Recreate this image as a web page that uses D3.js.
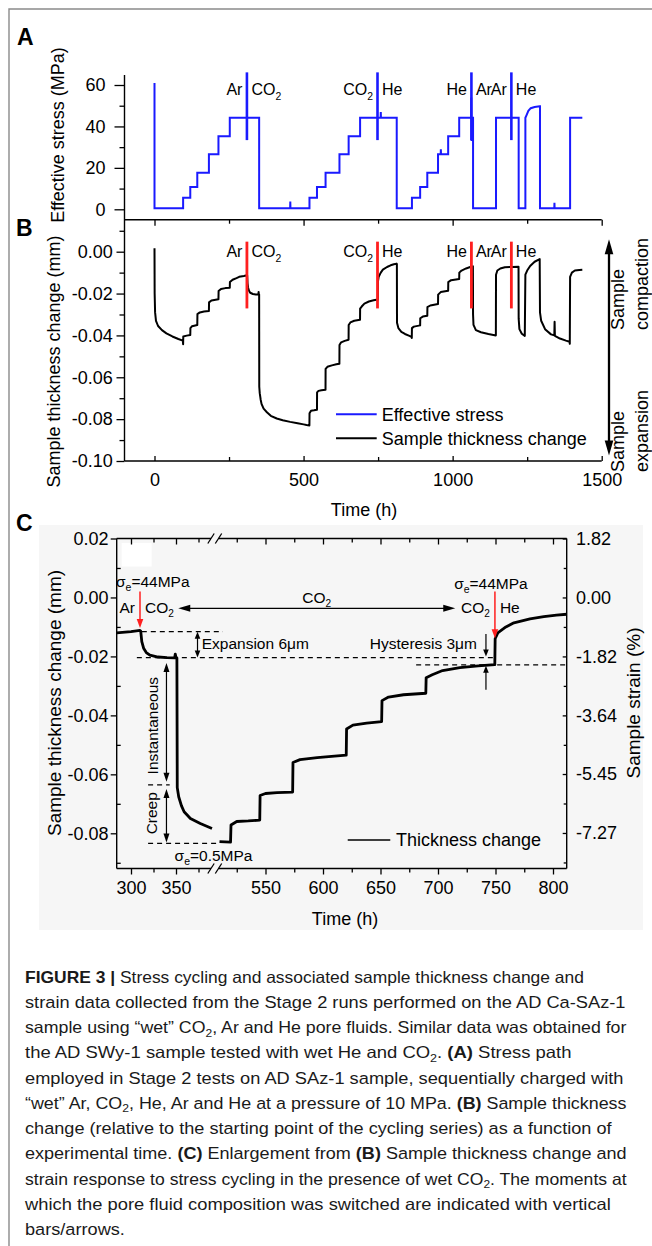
<!DOCTYPE html>
<html><head><meta charset="utf-8">
<script src="https://cdn.jsdelivr.net/npm/d3@7"></script>
<style>
html,body{margin:0;padding:0;background:#fff;}
svg{display:block;font-family:"Liberation Sans",Arial,Helvetica,sans-serif;}
</style></head><body>
<svg id="fig" width="652" height="1246"></svg>
<script>
// ---------------- DATA ----------------
const switchTimes = [310, 748, 1063, 1197];
const gasBefore = ["Ar", "CO2", "He", "Ar"];
const gasAfter  = ["CO2", "He", "Ar", "He"];

const stressTime = [0,0,96,96,120,120,143.5,143.5,182.5,182.5,214.5,214.5,252.5,252.5,351,351,455,455.5,456,
  519.8,519.8,545,545,573.8,573.8,620.4,620.4,651.2,651.2,689.6,689.6,758.5,759,759.5,812.5,812.5,
  863.5,863.5,891,891,915,915,951,951,960,960.5,961,985,985,1022,1022,1062,1062.5,1063.5,1064.5,1068.5,1068.5,
  1145.5,1145.5,1221.5,1221.5,1244,1244,1248,1254,1262,1275,1292,1293,1293,1341,1341.5,1342,1394,1394,1435];
const stressMPa = [61,0.5,0.5,5.6,5.6,10.8,10.8,17.7,17.7,26.6,26.6,35.3,35.3,44.2,44.2,0.5,0.5,3.8,0.5,
  0.5,5.6,5.6,10.8,10.8,17.7,17.7,26.6,26.6,35.3,35.3,44.2,44.2,47,44.2,44.2,0.5,
  0.5,5.6,5.6,10.8,10.8,17.7,17.7,26.6,26.6,29,26.6,26.6,35.3,35.3,44.2,44.2,54,33,44.2,44.2,0.5,
  0.5,44.2,44.2,0.5,0.5,44.2,45.5,47.5,48.8,49.4,49.7,49.7,0.5,0.5,3.2,0.5,0.5,44.2,44.2];

const thickTime = [0,0.5,2,5,12,25,40,60,80,95,96,96.5,108,120,120.5,126,143.5,144,152,166,182.5,183,191,214.5,
  215,223,238,252.5,253,262,275,284,300,310,310.8,312,314,317,321,330,340,348.5,349.2,350,351,351.4,353,356,359,
  366,377,390,410,430,455,480,500,510,519.6,520,525,535,545,545.3,550,560,573.6,573.9,580,595,610,620.2,620.5,
  626,638,651,651.3,657,670,689.4,689.7,695,704,719,735,749.4,749.7,752,759,766,780,792,803,812,813,813.4,818,
  828,840,855,862,863,863.5,870,891,891.4,900,915,915.4,925,951,951.4,960,985,985.4,995,1022,1022.4,1030,1045,
  1059,1068,1068.5,1070,1078,1095,1120,1145,1145.5,1150,1160,1175,1200,1221,1221.5,1224,1232,1242,1244,1250,
  1260,1275,1292,1293,1297,1310,1330,1341,1342,1343,1360,1380,1392,1393,1394,1400,1410,1425,1435];
const thickMM = [0.0016,-0.0200,-0.0290,-0.0330,-0.0355,-0.0375,-0.0390,-0.0405,-0.0417,-0.0425,-0.0442,-0.0405,
  -0.0401,-0.0398,-0.0365,-0.0356,-0.0350,-0.0298,-0.0290,-0.0286,-0.0283,-0.0242,-0.0233,-0.0227,
  -0.0188,-0.0178,-0.0174,-0.0172,-0.0145,-0.0134,-0.0126,-0.0120,-0.0116,-0.0112,-0.0114,-0.0150,-0.0172,
  -0.0187,-0.0196,-0.0202,-0.0204,-0.0205,-0.0192,-0.0204,-0.0205,-0.0645,-0.0676,-0.0706,-0.0727,
  -0.0750,-0.0767,-0.0784,-0.0797,-0.0805,-0.0813,-0.0820,-0.0825,-0.0828,-0.0830,-0.0772,-0.0760,-0.0758,
  -0.0755,-0.0672,-0.0665,-0.0662,-0.0660,-0.0560,-0.0550,-0.0543,-0.0538,-0.0535,-0.0446,
  -0.0433,-0.0426,-0.0421,-0.0350,-0.0338,-0.0330,-0.0325,-0.0272,-0.0262,-0.0248,-0.0238,-0.0232,-0.0228,
  -0.0140,-0.0120,-0.0100,-0.0086,-0.0073,-0.0065,-0.0060,-0.0057,-0.0059,-0.0340,-0.0365,
  -0.0383,-0.0393,-0.0402,-0.0407,-0.0412,-0.0365,-0.0358,-0.0352,-0.0318,-0.0310,-0.0306,-0.0265,-0.0257,
  -0.0250,-0.0205,-0.0193,-0.0187,-0.0145,-0.0136,-0.0130,-0.0100,-0.0090,-0.0080,
  -0.0073,-0.0070,-0.0300,-0.0350,-0.0375,-0.0385,-0.0393,-0.0400,-0.0110,-0.0090,-0.0080,-0.0074,-0.0073,
  -0.0072,-0.0320,-0.0370,-0.0392,-0.0402,-0.0110,-0.0090,
  -0.0068,-0.0048,-0.0035,-0.0290,-0.0330,-0.0370,-0.0395,-0.0400,-0.0335,-0.0402,-0.0415,-0.0425,-0.0430,
  -0.0440,-0.0120,-0.0100,-0.0090,-0.0087,-0.0086];

const xTicksB = [0, 500, 1000, 1500];
const xMinorB = [250, 750, 1250];
const yTicksA = [0, 20, 40, 60];
const yMinorA = [10, 30, 50];
const yTicksB = [0, -0.02, -0.04, -0.06, -0.08, -0.10];
const yMinorB = [0.01, -0.01, -0.03, -0.05, -0.07, -0.09];
const xTicksC1 = [300, 350];
const xMinorC1 = [325, 375];
const xTicksC2 = [550, 600, 650, 700, 750, 800];
const xMinorC2 = [525, 575, 625, 675, 725, 775];
const yTicksC = [0.02, 0, -0.02, -0.04, -0.06, -0.08];
const yMinorC = [0.01, -0.01, -0.03, -0.05, -0.07, -0.09];
const strainTicks = [1.82, 0, -1.82, -3.64, -5.45, -7.27];
const strainMinor = [0.91, -0.91, -2.73, -4.55, -6.36, -8.18];
const strainPerMM = 91;

const captionLines = [
  [["FIGURE 3 | ","b"],["Stress cycling and associated sample thickness change and"]],
  [["strain data collected from the Stage 2 runs performed on the AD Ca-SAz-1"]],
  [["sample using \u201cwet\u201d CO"],["2","s"],[", Ar and He pore fluids. Similar data was obtained for"]],
  [["the AD SWy-1 sample tested with wet He and CO"],["2","s"],[". "],["(A)","b"],[" Stress path"]],
  [["employed in Stage 2 tests on AD SAz-1 sample, sequentially charged with"]],
  [["\u201cwet\u201d Ar, CO"],["2","s"],[", He, Ar and He at a pressure of 10 MPa. "],["(B)","b"],[" Sample thickness"]],
  [["change (relative to the starting point of the cycling series) as a function of"]],
  [["experimental time. "],["(C)","b"],[" Enlargement from "],["(B)","b"],[" Sample thickness change and"]],
  [["strain response to stress cycling in the presence of wet CO"],["2","s"],[". The moments at"]],
  [["which the pore fluid composition was switched are indicated with vertical"]],
  [["bars/arrows."]]
];

// ---------------- LAYOUT ----------------
const captionEnds = [584, 626, 627, 572, 624, 627, 612, 627, 627, 611, 125];
const BLUE = "#1a1aff", RED = "#ff1f1f", BLACK = "#000";
const svg = d3.select("#fig");

const thick = thickTime.map((t, i) => ({t, v: thickMM[i]}));
const stress = stressTime.map((t, i) => ({t, v: stressMPa[i]}));

// frame of the figure
svg.append("path").attr("d", "M9,1246V9H652").attr("fill", "none").attr("stroke", "#8a8a8a").attr("stroke-width", 1.4);

function letter(t, x, y) {
  svg.append("text").attr("x", x).attr("y", y).attr("font-size", 23).attr("font-weight", "bold").text(t);
}
letter("A", 17, 44.5); letter("B", 16, 235.5); letter("C", 16, 530.5);

function fmt2(d) { return Math.abs(d) < 1e-9 ? "0.00" : d.toFixed(2); }
function styleAxis(g, size) {
  g.attr("font-family", null).attr("font-size", null);
  g.select(".domain").remove();
  g.selectAll(".tick line").attr("stroke", BLACK).attr("stroke-width", 1.3);
  g.selectAll(".tick text").attr("fill", BLACK).attr("font-size", size);
  return g;
}
function gasText(sel, name, size) {
  if (name === "CO2") {
    sel.append("tspan").text("CO");
    sel.append("tspan").attr("font-size", size * 0.65).attr("dy", size * 0.28).text("2");
  } else sel.text(name);
}
function head(g, x, y, dir, len, hw, color) {
  let p;
  if (dir === "down") p = [[x, y], [x - hw, y - len], [x + hw, y - len]];
  if (dir === "up") p = [[x, y], [x - hw, y + len], [x + hw, y + len]];
  if (dir === "left") p = [[x, y], [x + len, y - hw], [x + len, y + hw]];
  if (dir === "right") p = [[x, y], [x - len, y - hw], [x - len, y + hw]];
  g.append("path").attr("d", "M" + p.map(q => q.join(",")).join("L") + "Z").attr("fill", color || BLACK);
}
function line(g, x1, y1, x2, y2, color, w, dash) {
  const l = g.append("line").attr("x1", x1).attr("y1", y1).attr("x2", x2).attr("y2", y2)
    .attr("stroke", color || BLACK).attr("stroke-width", w || 1.3);
  if (dash) l.attr("stroke-dasharray", dash);
  return l;
}
function rotText(g, x, y, txt, size, anchor) {
  return g.append("text").attr("transform", `translate(${x},${y}) rotate(-90)`)
    .attr("text-anchor", anchor || "middle").attr("dy", "0.35em").attr("font-size", size).text(txt);
}

// ---------------- PANELS A & B ----------------
const bL = 124.5, bR = 601.7, bT = 219.7, bB = 461, aTop = 75;
const xB = d3.scaleLinear().domain([0, 1500]).range([154.5, 601.7]);
const yA = d3.scaleLinear().domain([0, 60]).range([209.3, 85]);
const yB = d3.scaleLinear().domain([-0.1, 0]).range([461, 251.7]);

const gAB = svg.append("g");
// frame lines
line(gAB, bL, aTop, bL, bB, BLACK, 1.4);
line(gAB, bL, bT, bR, bT, BLACK, 1.4);
line(gAB, bL, bB, bR, bB, BLACK, 1.4);

// A axis
styleAxis(gAB.append("g").attr("transform", `translate(${bL},0)`)
  .call(d3.axisLeft(yA).tickValues(yTicksA).tickSize(10).tickPadding(9).tickFormat(d3.format("d"))), 18);
styleAxis(gAB.append("g").attr("transform", `translate(${bL},0)`)
  .call(d3.axisLeft(yA).tickValues(yMinorA).tickSize(5).tickFormat("")), 18);
rotText(gAB, 58, 135, "Effective stress (MPa)", 18);

// B axes
styleAxis(gAB.append("g").attr("transform", `translate(${bL},0)`)
  .call(d3.axisLeft(yB).tickValues(yTicksB).tickSize(8).tickPadding(3.8).tickFormat(fmt2)), 18);
styleAxis(gAB.append("g").attr("transform", `translate(${bL},0)`)
  .call(d3.axisLeft(yB).tickValues(yMinorB).tickSize(5).tickFormat("")), 18);
styleAxis(gAB.append("g").attr("transform", `translate(0,${bB})`)
  .call(d3.axisBottom(xB).tickValues(xTicksB).tickSizeInner(-5).tickSizeOuter(0).tickPadding(12.5).tickFormat(d3.format("d"))), 18);
styleAxis(gAB.append("g").attr("transform", `translate(0,${bB})`)
  .call(d3.axisBottom(xB).tickValues(xMinorB).tickSizeInner(-4).tickSizeOuter(0).tickFormat("")), 18);
styleAxis(gAB.append("g").attr("transform", `translate(0,${bT})`)
  .call(d3.axisTop(xB).tickValues(xTicksB).tickSizeInner(-6).tickSizeOuter(0).tickFormat("")), 18);
styleAxis(gAB.append("g").attr("transform", `translate(0,${bT})`)
  .call(d3.axisTop(xB).tickValues(xMinorB).tickSizeInner(-4).tickSizeOuter(0).tickFormat("")), 18);
rotText(gAB, 54, 361.5, "Sample thickness change (mm)", 18);
gAB.append("text").attr("x", 364).attr("y", 516).attr("text-anchor", "middle").attr("font-size", 18).text("Time (h)");

// data lines
const lineA = d3.line().x(d => xB(d.t)).y(d => yA(d.v));
const lineB = d3.line().x(d => xB(d.t)).y(d => yB(d.v));
gAB.append("path").datum(stress).attr("d", lineA).attr("fill", "none").attr("stroke", BLUE).attr("stroke-width", 2);
gAB.append("path").datum(thick).attr("d", lineB).attr("fill", "none").attr("stroke", BLACK).attr("stroke-width", 2).attr("stroke-linejoin", "round");

// switch bars and gas labels
switchTimes.forEach((t, i) => {
  const x = xB(t);
  line(gAB, x, yA(66.1), x, yA(33.4), BLUE, 2.6);
  line(gAB, x, yB(0.0048), x, yB(-0.0271), RED, 2.8);
  [[yA(57.7), 90], [yB(0.0), 251.7]].forEach(([yc]) => {
    const tl = gAB.append("text").attr("x", x - 4.5).attr("y", yc).attr("dy", "0.35em").attr("text-anchor", "end").attr("font-size", 16);
    gasText(tl, gasBefore[i], 16);
    const tr = gAB.append("text").attr("x", x + 4.5).attr("y", yc).attr("dy", "0.35em").attr("text-anchor", "start").attr("font-size", 16);
    gasText(tr, gasAfter[i], 16);
  });
});

// legend B
line(gAB, 336, 414.3, 376.7, 414.3, BLUE, 2);
line(gAB, 336, 438.3, 376.7, 438.3, BLACK, 2);
gAB.append("text").attr("x", 381.7).attr("y", 414.3).attr("dy", "0.35em").attr("font-size", 18).text("Effective stress");
gAB.append("text").attr("x", 381.7).attr("y", 438.3).attr("dy", "0.35em").attr("font-size", 18).text("Sample thickness change");

// right side double arrow
const arX = bR + 7.3;
line(gAB, arX, 250, arX, 445, BLACK, 2.3);
head(gAB, arX, 239.3, "up", 15, 4.3);
head(gAB, arX, 455.5, "down", 15, 4.3);
rotText(gAB, 618, 330, "Sample", 18, "start");
rotText(gAB, 641.7, 330, "compaction", 18, "start");
rotText(gAB, 618, 472, "Sample", 18, "start");
rotText(gAB, 641.7, 472, "expansion", 18, "start");

// ---------------- PANEL C ----------------
const cL = 116.7, cR = 566.7, cT = 538.5, cB = 868.5, brk1 = 211, brk2 = 218.5;
const xC1 = d3.scaleLinear().domain([300, 350]).range([131, 176]);
const xC2 = d3.scaleLinear().domain([550, 800]).range([265.5, 553]);
const yC = d3.scaleLinear().domain([-0.08, 0.02]).range([833.3, 538.5]);
const yS = d3.scaleLinear().domain([-0.08 * strainPerMM, 0.02 * strainPerMM]).range([833.3, 538.5]);

const gC = svg.append("g");
gC.append("rect").attr("x", 39).attr("y", 525).attr("width", 604).attr("height", 405).attr("fill", "#f6f6f6");
gC.append("rect").attr("x", 121.7).attr("y", 543).attr("width", 30).attr("height", 23.5).attr("fill", "#fff");

// frame
line(gC, cL, cT, cL, cB, BLACK, 1.4);
line(gC, cR, cT, cR, cB, BLACK, 1.4);
[cT, cB].forEach(y => {
  line(gC, cL, y, brk1, y, BLACK, 1.4);
  line(gC, brk2, y, cR, y, BLACK, 1.4);
  [brk1, brk2].forEach(bx => line(gC, bx - 3.2, y + 5, bx + 3.2, y - 5, BLACK, 1.3));
});

// axes C
styleAxis(gC.append("g").attr("transform", `translate(${cL},0)`)
  .call(d3.axisLeft(yC).tickValues(yTicksC).tickSize(6).tickPadding(2.2).tickFormat(fmt2)), 18);
styleAxis(gC.append("g").attr("transform", `translate(${cL},0)`)
  .call(d3.axisLeft(yC).tickValues(yMinorC).tickSize(-4).tickFormat("")), 18);
styleAxis(gC.append("g").attr("transform", `translate(${cR},0)`)
  .call(d3.axisRight(yS).tickValues(strainTicks).tickSizeInner(-4).tickSizeOuter(0).tickPadding(9.3).tickFormat(fmt2)), 18);
styleAxis(gC.append("g").attr("transform", `translate(${cR},0)`)
  .call(d3.axisRight(yS).tickValues(strainMinor).tickSizeInner(-3).tickSizeOuter(0).tickFormat("")), 18);
[[xC1, xTicksC1, xMinorC1], [xC2, xTicksC2, xMinorC2]].forEach(([sc, maj, mnr]) => {
  styleAxis(gC.append("g").attr("transform", `translate(0,${cB})`)
    .call(d3.axisBottom(sc).tickValues(maj).tickSizeInner(6).tickSizeOuter(0).tickPadding(7.2).tickFormat(d3.format("d"))), 18);
  styleAxis(gC.append("g").attr("transform", `translate(0,${cB})`)
    .call(d3.axisBottom(sc).tickValues(mnr).tickSizeInner(4).tickSizeOuter(0).tickFormat("")), 18);
  styleAxis(gC.append("g").attr("transform", `translate(0,${cT})`)
    .call(d3.axisTop(sc).tickValues(maj).tickSizeInner(-6).tickSizeOuter(0).tickFormat("")), 18);
  styleAxis(gC.append("g").attr("transform", `translate(0,${cT})`)
    .call(d3.axisTop(sc).tickValues(mnr).tickSizeInner(-4).tickSizeOuter(0).tickFormat("")), 18);
});
rotText(gC, 54, 703, "Sample thickness change (mm)", 19);
rotText(gC, 633, 703, "Sample strain (%)", 19);
gC.append("text").attr("x", 345).attr("y", 918.3).attr("dy", "0.35em").attr("text-anchor", "middle").attr("font-size", 18).text("Time (h)");

// data C (two segments of the same record)
const seg1 = thick.filter(d => d.t >= 284 && d.t <= 390);
const seg2 = thick.filter(d => d.t >= 510 && d.t <= 812);
gC.append("path").datum(seg1).attr("d", d3.line().x(d => xC1(d.t)).y(d => yC(d.v)))
  .attr("fill", "none").attr("stroke", BLACK).attr("stroke-width", 2.8).attr("stroke-linejoin", "round");
gC.append("path").datum(seg2).attr("d", d3.line().x(d => xC2(d.t)).y(d => yC(d.v)))
  .attr("fill", "none").attr("stroke", BLACK).attr("stroke-width", 2.8).attr("stroke-linejoin", "round");

// dashed guide lines
const D = "5,4";
line(gC, xC1(312), yC(-0.0116), xC2(513), yC(-0.0116), BLACK, 1.3, D);
line(gC, xC1(306.5), yC(-0.0204), xC2(749.5), yC(-0.0204), BLACK, 1.3, D);
line(gC, xC2(681), yC(-0.0229), cR, yC(-0.0229), BLACK, 1.3, D);
line(gC, xC1(319), yC(-0.0636), xC1(343), yC(-0.0636), BLACK, 1.3, D);
line(gC, xC1(319), yC(-0.0834), xC2(510.3), yC(-0.0834), BLACK, 1.3, D);

function sigma(g, x, y, val, anchor) {
  const t = g.append("text").attr("x", x).attr("y", y).attr("dy", "0.35em").attr("text-anchor", anchor || "start").attr("font-size", 15.5);
  t.append("tspan").text("\u03c3");
  t.append("tspan").attr("font-size", 10.5).attr("dy", 4).text("e");
  t.append("tspan").attr("dy", -4).text("=" + val);
}
const fs = 15.5;
// switch arrows (red)
const xs0 = xC1(switchTimes[0]), xs1 = xC2(749.5);
sigma(gC, xC1(283.3), yC(0.0054), "44MPa", "start");
sigma(gC, xs1 - 4, yC(0.0048), "44MPa", "middle");
line(gC, xs0, yC(0.002), xs0, yC(-0.0104) - 8, RED, 1.5);
head(gC, xs0, yC(-0.0104), "down", 9, 3.3, RED);
line(gC, xs1, yC(0.002), xs1, yC(-0.0138) - 8, RED, 1.5);
head(gC, xs1, yC(-0.0138), "down", 9, 3.3, RED);
[[xs0, gasBefore[0], gasAfter[0]], [xs1, gasBefore[1], gasAfter[1]]].forEach(([x, a, b]) => {
  const tl = gC.append("text").attr("x", x - 5).attr("y", yC(-0.0033)).attr("dy", "0.35em").attr("text-anchor", "end").attr("font-size", fs);
  gasText(tl, a, fs);
  const tr = gC.append("text").attr("x", x + 5).attr("y", yC(-0.0033)).attr("dy", "0.35em").attr("text-anchor", "start").attr("font-size", fs);
  gasText(tr, b, fs);
});
// CO2 duration arrow
const ha1 = xC1(352.5), ha2 = xC2(715), hy = yC(-0.0037);
line(gC, ha1 + 8, hy, ha2 - 8, hy, BLACK, 1.3);
head(gC, ha1, hy, "left", 12, 3.5);
head(gC, ha2, hy, "right", 12, 3.5);
const mid = gC.append("text").attr("x", (ha1 + ha2) / 2).attr("y", yC(0.0001)).attr("dy", "0.35em").attr("text-anchor", "middle").attr("font-size", fs);
gasText(mid, "CO2", fs);

// expansion arrow
const ex = xC1(373.9);
line(gC, ex, yC(-0.0116) + 5, ex, yC(-0.0204) - 5, BLACK, 1.2);
head(gC, ex, yC(-0.0116), "up", 7, 2.8);
head(gC, ex, yC(-0.0204), "down", 7, 2.8);
gC.append("text").attr("x", ex + 4.2).attr("y", yC(-0.0155)).attr("dy", "0.35em").attr("font-size", fs).text("Expansion 6\u03bcm");

// hysteresis arrows
const hx = xC2(741.7);
gC.append("text").attr("x", hx - 9).attr("y", yC(-0.0155)).attr("dy", "0.35em").attr("text-anchor", "end").attr("font-size", fs).text("Hysteresis 3\u03bcm");
line(gC, hx, yC(-0.0124), hx, yC(-0.0200) - 5, BLACK, 1.2);
head(gC, hx, yC(-0.0200), "down", 7, 2.8);
line(gC, hx, yC(-0.0313), hx, yC(-0.0232) + 5, BLACK, 1.2);
head(gC, hx, yC(-0.0232), "up", 7, 2.8);

// instantaneous / creep arrows
const ix = xC1(339.4);
line(gC, ix, yC(-0.0222) + 6, ix, yC(-0.0625) - 6, BLACK, 1.2);
head(gC, ix, yC(-0.0222), "up", 9, 3);
head(gC, ix, yC(-0.0625), "down", 9, 3);
line(gC, ix, yC(-0.0650) + 6, ix, yC(-0.0831) - 6, BLACK, 1.2);
head(gC, ix, yC(-0.0650), "up", 9, 3);
head(gC, ix, yC(-0.0831), "down", 9, 3);
rotText(gC, xC1(324.4), yC(-0.0435), "Instantaneous", fs);
rotText(gC, xC1(323), yC(-0.0732), "Creep", fs);
sigma(gC, xC1(348.4), yC(-0.0877), "0.5MPa", "start");

// legend C
line(gC, xC2(621.5), yC(-0.0823), xC2(658.5), yC(-0.0823), BLACK, 1.5);
gC.append("text").attr("x", xC2(663.5)).attr("y", yC(-0.0823)).attr("dy", "0.35em").attr("font-size", 18).text("Thickness change");

// ---------------- CAPTION ----------------
const capX = 25, capBase0 = 982.5, capStep = 25.26, capSize = 16.5;
captionLines.forEach((segs, i) => {
  const g = svg.append("g").attr("transform", `translate(${capX},${capBase0 + i * capStep})`);
  const t = g.append("text").attr("x", 0).attr("y", 0).attr("font-size", capSize).attr("fill", "#1a1a1a");
  let shifted = false;
  segs.forEach(([txt, st]) => {
    const sp = t.append("tspan").text(txt);
    if (st === "b") sp.attr("font-weight", "bold");
    if (st === "s") { sp.attr("font-size", capSize * 0.68).attr("dy", 3.5); shifted = true; }
    else if (shifted) { sp.attr("dy", -3.5); shifted = false; }
  });
  const natural = t.node().getComputedTextLength();
  const target = captionEnds[i] - capX;
  g.attr("transform", `translate(${capX},${capBase0 + i * capStep}) scale(${target / natural},1)`);
});
</script>
</body></html>
